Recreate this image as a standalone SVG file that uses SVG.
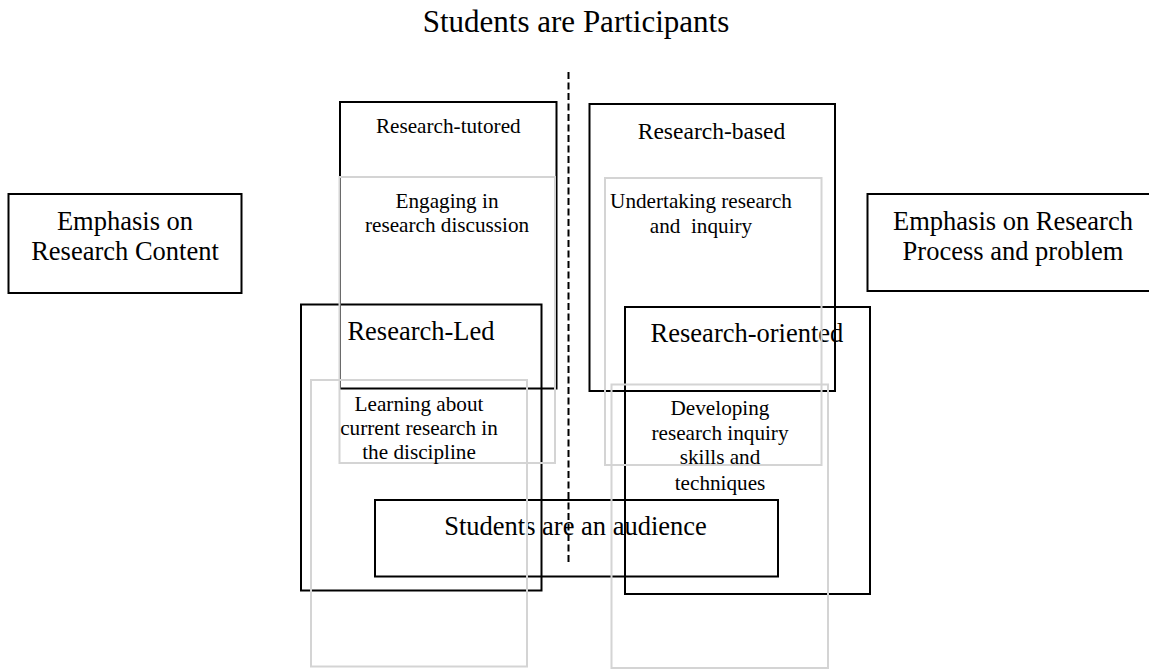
<svg xmlns="http://www.w3.org/2000/svg" width="1149" height="671" viewBox="0 0 1149 671">
  <style>
    text { font-family: "Liberation Serif", "Times New Roman", serif; fill: #000; text-anchor: middle; }
    .big { font-size: 26.5px; }
    .mid { font-size: 23.5px; }
    .small { font-size: 21.2px; }
    .title { font-size: 31px; }
    .frame { fill: none; stroke: #000; stroke-width: 2; }
    .inner { fill: none; stroke: #d4d4d4; stroke-width: 2; }
    .divider { fill: none; stroke: #000; stroke-width: 2; stroke-dasharray: 7 3.5; }
  </style>
  <rect width="1149" height="671" fill="#fff"/>

  <!-- top axis label -->
  <g id="participants">
    <text class="title" x="576" y="32">Students are Participants</text>
  </g>

  <!-- side emphasis labels -->
  <g id="emphasis-content">
    <rect class="frame" x="8.5" y="194" width="233" height="99"/>
    <text class="big" x="125" y="230">Emphasis on</text>
    <text class="big" x="125" y="260">Research Content</text>
  </g>
  <g id="emphasis-process">
    <rect class="frame" x="867.5" y="194" width="295" height="97"/>
    <text class="big" x="1013" y="229.5">Emphasis on Research</text>
    <text class="big" x="1013" y="259.5">Process and problem</text>
  </g>

  <!-- four quadrants -->
  <g id="research-tutored">
    <rect class="frame" x="340" y="102" width="216.5" height="286.5"/>
    <text class="small" x="448.3" y="133">Research-tutored</text>
  </g>
  <g id="research-based">
    <rect class="frame" x="589.5" y="104" width="245.5" height="287"/>
    <text class="mid" x="711.5" y="138.5">Research-based</text>
  </g>
  <g id="research-led">
    <rect class="frame" x="301" y="304.5" width="240.5" height="286"/>
    <text class="big" x="421" y="339.5">Research-Led</text>
  </g>
  <g id="research-oriented">
    <rect class="frame" x="625" y="307" width="245" height="287"/>
    <text class="big" x="747" y="342">Research-oriented</text>
  </g>

  <!-- bottom axis label -->
  <g id="audience">
    <rect class="frame" x="375" y="500" width="403" height="76.5"/>
    <text class="big" x="575.5" y="534.5">Students are an audience</text>
  </g>

  <!-- activity descriptions -->
  <g id="engaging">
    <rect class="inner" x="339.5" y="177" width="215.5" height="286"/>
    <text class="small" x="447" y="207.5">Engaging in</text>
    <text class="small" x="447" y="232">research discussion</text>
  </g>
  <g id="undertaking">
    <rect class="inner" x="605" y="178" width="216.5" height="287"/>
    <text class="small" x="701" y="207.5">Undertaking research</text>
    <text class="small" x="701" y="233" xml:space="preserve">and  inquiry</text>
  </g>
  <g id="learning">
    <rect class="inner" x="311" y="380" width="216" height="286.5"/>
    <text class="small" x="419" y="411">Learning about</text>
    <text class="small" x="419" y="434.5">current research in</text>
    <text class="small" x="419" y="459">the discipline</text>
  </g>
  <g id="developing">
    <rect class="inner" x="611.5" y="384.5" width="216.5" height="283.5"/>
    <text class="small" x="720" y="415">Developing</text>
    <text class="small" x="720" y="439.5">research inquiry</text>
    <text class="small" x="720" y="463.5">skills and</text>
    <text class="small" x="720" y="489.5">techniques</text>
  </g>

  <!-- dividing line between content and process -->
  <g id="connectors">
    <line class="divider" x1="568.5" y1="72" x2="568.5" y2="563"/>
  </g>
</svg>
